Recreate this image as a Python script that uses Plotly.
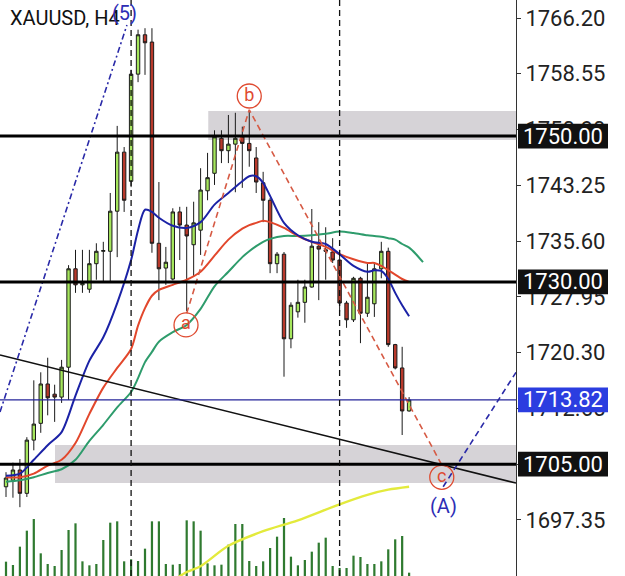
import plotly.graph_objects as go

# ---------------- data ----------------
candle_idx = list(range(59))
opens = [1701.9, 1702.8, 1704.2, 1701.0, 1708.3, 1710.6, 1716.0, 1714.6, 1714.2, 1718.3,
         1731.8, 1729.6, 1729.0, 1732.5, 1734.2, 1734.2, 1739.7, 1747.8, 1743.8, 1758.5,
         1763.9, 1762.9, 1735.3, 1731.9, 1730.4, 1739.6, 1737.8, 1735.1, 1737.1, 1742.5,
         1744.9, 1749.7, 1748.0, 1748.9, 1749.9, 1749.0, 1747.0, 1743.6, 1741.2, 1732.5,
         1733.8, 1722.2, 1725.9, 1727.2, 1729.3, 1734.9, 1734.4, 1734.1, 1733.0, 1727.1,
         1724.8, 1730.5, 1725.7, 1727.0, 1731.8, 1734.2, 1721.4, 1718.2, 1712.3]
highs = [1703.9, 1705.2, 1705.7, 1708.7, 1716.5, 1717.6, 1719.6, 1715.9, 1719.3, 1732.3,
         1734.4, 1734.4, 1734.4, 1735.3, 1735.5, 1742.2, 1751.4, 1748.5, 1759.1, 1764.6,
         1764.8, 1764.8, 1743.7, 1734.8, 1740.1, 1740.3, 1740.3, 1741.0, 1745.6, 1747.7,
         1750.8, 1750.8, 1752.9, 1753.2, 1751.3, 1753.3, 1748.5, 1745.1, 1741.5, 1734.1,
         1734.1, 1727.2, 1730.3, 1730.3, 1740.0, 1738.2, 1737.5, 1736.0, 1734.4, 1727.4,
         1730.7, 1730.7, 1732.7, 1732.7, 1735.5, 1734.7, 1721.5, 1721.1, 1714.2]
lows = [1700.5, 1700.4, 1699.1, 1700.5, 1706.9, 1709.3, 1711.7, 1710.8, 1713.4, 1713.8,
        1728.5, 1728.5, 1728.5, 1730.3, 1730.0, 1729.9, 1733.4, 1739.6, 1743.0, 1757.4,
        1758.4, 1734.0, 1727.5, 1729.6, 1730.2, 1733.0, 1726.0, 1730.7, 1733.7, 1741.2,
        1743.3, 1746.3, 1746.3, 1742.3, 1742.9, 1745.8, 1742.2, 1738.2, 1731.2, 1731.2,
        1717.0, 1720.9, 1725.1, 1724.4, 1729.2, 1727.5, 1730.3, 1732.6, 1725.9, 1723.7,
        1724.5, 1721.6, 1725.2, 1725.2, 1730.5, 1721.1, 1718.0, 1709.0, 1712.2]
closes = [1703.1, 1704.2, 1701.0, 1708.3, 1710.5, 1716.0, 1714.1, 1714.2, 1718.3, 1731.8,
          1729.6, 1729.8, 1732.5, 1734.2, 1734.3, 1739.7, 1747.8, 1741.2, 1758.5, 1763.9,
          1762.8, 1735.3, 1731.8, 1732.7, 1739.6, 1737.8, 1736.3, 1738.1, 1742.6, 1744.3,
          1749.9, 1748.0, 1748.9, 1749.7, 1749.0, 1748.0, 1743.7, 1741.2, 1732.5, 1733.8,
          1722.2, 1726.8, 1727.2, 1729.3, 1734.9, 1734.5, 1734.2, 1733.0, 1727.1, 1724.8,
          1730.5, 1725.7, 1727.9, 1731.8, 1734.2, 1721.4, 1718.2, 1712.3, 1713.8]
volumes = [43, 33, 88, 136, 171, 68, 36, 30, 78, 138, 158, 44, 32, 36, 108, 160, 164, 44, 50, 45,
           82, 164, 164, 36, 34, 36, 167, 164, 136, 38, 32, 34, 94, 156, 156, 45, 30, 44, 84, 118,
           174, 58, 32, 48, 73, 100, 115, 30, 24, 24, 61, 57, 36, 36, 44, 80, 110, 120, 10]

ma_idx = [0, 2, 4, 6, 8, 10, 12, 14, 16, 18, 19, 20, 21, 22, 24, 26, 28, 30, 32, 34, 35, 36, 37, 38,
          40, 42, 44, 46, 48, 50, 52, 53, 54, 55, 56, 57, 58]
ma_blue = [1703.4, 1703.7, 1705.6, 1707.6, 1709.4, 1714.4, 1719.2, 1722.4, 1727.1, 1733.0, 1737.1,
           1739.9, 1739.6, 1738.8, 1737.7, 1737.4, 1738.2, 1740.6, 1742.2, 1743.8, 1744.5, 1744.5,
           1743.6, 1741.8, 1738.1, 1736.4, 1735.5, 1735.2, 1733.8, 1732.2, 1731.4, 1731.6, 1731.5,
           1730.4, 1728.5, 1726.8, 1725.3]
ma_red = [1703.2, 1703.2, 1703.7, 1704.8, 1705.6, 1707.9, 1711.9, 1715.5, 1718.2, 1720.8, 1724.0,
          1726.4, 1728.1, 1728.9, 1729.6, 1730.3, 1731.4, 1733.6, 1735.8, 1737.3, 1737.8, 1738.1,
          1738.4, 1738.2, 1737.4, 1736.3, 1735.5, 1734.8, 1733.8, 1733.1, 1732.6, 1732.6, 1732.2,
          1731.6, 1731.0, 1730.4, 1730.0]
green_idx = ma_idx + [59, 60]
ma_green = [1702.6, 1702.8, 1703.2, 1703.8, 1704.3, 1705.6, 1708.2, 1710.4, 1712.8, 1714.9, 1716.8,
            1719.0, 1720.4, 1721.8, 1723.1, 1724.1, 1726.3, 1729.4, 1731.4, 1733.4, 1734.2, 1734.9,
            1735.5, 1735.9, 1736.3, 1736.3, 1736.4, 1736.6, 1736.9, 1736.7, 1736.4, 1736.3, 1736.2,
            1736.0, 1735.8, 1735.2, 1734.7, 1733.8, 1732.7]
yellow_idx = [24, 26, 28, 32, 37, 42, 48, 52, 55, 58]
ma_yellow = [1689.0, 1690.2, 1691.0, 1693.8, 1695.8, 1697.3, 1699.5, 1700.8, 1701.5, 1701.9]

level_prices = [1750.00, 1730.00, 1705.00]
last_price = 1713.82
zones = [(29.1, 1753.44, 1749.46), (7.05, 1707.63, 1702.41)]
trend_x = [-0.863, 73.38]
trend_y = [1719.97, 1702.41]
wave5_x = [-0.863, 17.4]
wave5_y = [1712.16, 1765.24]
abc_x = [26.0, 35.0, 62.7]
abc_y = [1725.7, 1753.6, 1704.9]
abc_lbl_x = [25.9, 35.0, 62.7]
abc_lbl_y = [1724.1, 1755.5, 1703.2]
abc_labels = ["a", "b", "c"]
waveA_x = [62.9, 73.38]
waveA_y = [1701.9, 1717.6]
vlines = [18, 48]
tick_vals = [1766.20, 1758.55, 1750.90, 1743.25, 1735.60, 1727.95, 1720.30, 1712.65, 1705.00, 1697.35]

X_RANGE = [-0.863, 73.38]
Y_RANGE = [1689.66, 1768.67]

FONT = "Roboto"
RED = "#df4a30"
NAVY = "#2a2aa8"

fig = go.Figure()

# volume
fig.add_trace(go.Bar(x=candle_idx, y=volumes, width=0.32, marker_color="#2f7a30",
                     marker_line_width=0, yaxis="y"))

# candles
fig.add_trace(go.Candlestick(
    x=candle_idx, open=opens, high=highs, low=lows, close=closes, yaxis="y2",
    increasing=dict(line=dict(color="#1a1a1a", width=1), fillcolor="#a5e65c"),
    decreasing=dict(line=dict(color="#1a1a1a", width=1), fillcolor="#b8392b"),
    whiskerwidth=0, hoverinfo="skip"))

# moving averages
for xs, ys, col, w in [(yellow_idx, ma_yellow, "#e3ea3c", 2.4),
                       (green_idx, ma_green, "#2e9c6c", 2),
                       (ma_idx, ma_red, "#e2472c", 2),
                       (ma_idx, ma_blue, "#1b22a6", 2)]:
    fig.add_trace(go.Scatter(x=xs, y=ys, mode="lines", yaxis="y2",
                             line=dict(color=col, width=w, shape="spline", smoothing=0.8)))

# trend line
fig.add_trace(go.Scatter(x=trend_x, y=trend_y, mode="lines", yaxis="y2",
                         line=dict(color="#111111", width=1.6)))
# wave lines
fig.add_trace(go.Scatter(x=wave5_x, y=wave5_y, mode="lines", yaxis="y2",
                         line=dict(color=NAVY, width=1.6, dash="6px,3px,2px,3px")))
fig.add_trace(go.Scatter(x=abc_x, y=abc_y, mode="lines", yaxis="y2",
                         line=dict(color="#d65a44", width=1.6, dash="6px,4px")))
fig.add_trace(go.Scatter(x=waveA_x, y=waveA_y, mode="lines", yaxis="y2",
                         line=dict(color=NAVY, width=1.6, dash="6px,4px")))
# circled labels
fig.add_trace(go.Scatter(x=abc_lbl_x, y=abc_lbl_y, mode="markers+text", yaxis="y2",
                         text=abc_labels, textposition="middle center",
                         textfont=dict(family=FONT, size=18, color=RED),
                         marker=dict(symbol="circle-open", size=24, color=RED,
                                     line=dict(width=1.3, color=RED)),
                         cliponaxis=False))

shapes = []
for x0, y1, y0 in zones:
    shapes.append(dict(type="rect", xref="x", yref="y2", x0=x0, x1=X_RANGE[1], y0=y0, y1=y1,
                       fillcolor="#d6d3d7", line=dict(width=0), layer="below"))
for p in level_prices:
    shapes.append(dict(type="line", xref="paper", yref="y2", x0=0, x1=1, y0=p, y1=p,
                       line=dict(color="#000000", width=3), layer="above"))
shapes.append(dict(type="line", xref="paper", yref="y2", x0=0, x1=1, y0=last_price, y1=last_price,
                   line=dict(color="#25259a", width=1.2), layer="above"))
for v in vlines:
    shapes.append(dict(type="line", xref="x", yref="paper", x0=v, x1=v, y0=0, y1=1,
                       line=dict(color="#111111", width=1.3, dash="6px,4px"), layer="above"))

# price boxes on the axis
annotations = []
box_x0, box_x1, box_xc = 518 / 516, 608 / 516, 563 / 516
half_h = 1.7
for p, col in [(1750.00, "#111111"), (1730.00, "#111111"), (1705.00, "#111111"),
               (last_price, "#2b3de0")]:
    shapes.append(dict(type="rect", xref="paper", yref="y2", x0=box_x0, x1=box_x1,
                       y0=p - half_h, y1=p + half_h, fillcolor=col, line=dict(width=0),
                       layer="above"))
    annotations.append(dict(xref="paper", yref="y2", x=box_xc, y=p, text=f"{p:.2f}",
                            showarrow=False, xanchor="center", yanchor="middle",
                            font=dict(family=FONT, size=22, color="#ffffff")))

annotations.append(dict(xref="paper", yref="paper", x=8 / 516, y=1 - 18 / 576,
                        text="XAUUSD, H4", showarrow=False, xanchor="left", yanchor="middle",
                        font=dict(family=FONT, size=20, color="#111111")))
annotations.append(dict(xref="x", yref="y2", x=17.1, y=1766.9, text="(5)", showarrow=False,
                        xanchor="center", yanchor="middle",
                        font=dict(family=FONT, size=20, color="#2d2db5")))
annotations.append(dict(xref="x", yref="y2", x=62.9, y=1699.3, text="(A)", showarrow=False,
                        xanchor="center", yanchor="middle",
                        font=dict(family=FONT, size=20, color="#2d2db5")))

fig.update_layout(
    width=625, height=576,
    margin=dict(l=0, r=109, t=0, b=0),
    paper_bgcolor="#ffffff", plot_bgcolor="#ffffff",
    showlegend=False, hovermode=False, boxgap=0.3,
    xaxis=dict(range=X_RANGE, visible=False, rangeslider=dict(visible=False), fixedrange=True),
    yaxis=dict(range=[0, 1728], visible=False, fixedrange=True),
    yaxis2=dict(range=Y_RANGE, overlaying="y", side="right", showgrid=False, zeroline=False,
                tickmode="array", tickvals=tick_vals,
                ticktext=[f"{t:.2f}" for t in tick_vals],
                ticks="outside", ticklen=4, tickcolor="#333333",
                showline=True, linecolor="#333333", linewidth=1,
                tickfont=dict(family=FONT, size=22, color="#222222"), fixedrange=True),
    shapes=shapes, annotations=annotations,
)

fig.write_html("out.html", config={"displayModeBar": False},
               post_script="document.body.style.margin='0';document.body.style.padding='0';")
